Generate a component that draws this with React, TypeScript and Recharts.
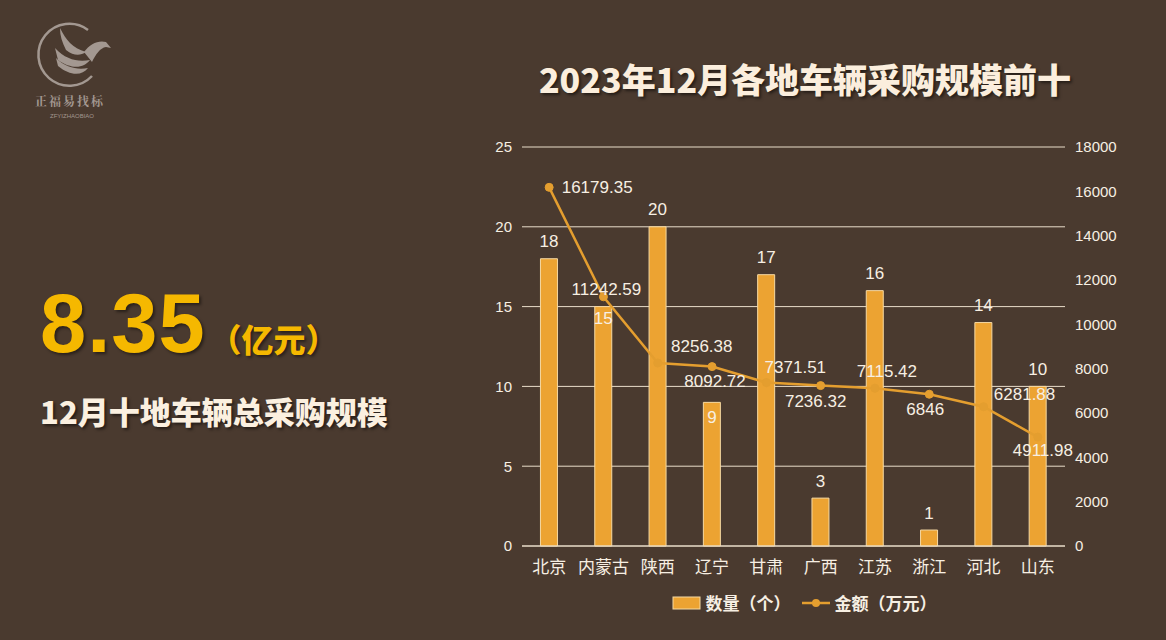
import React from "react";
import {
  ComposedChart,
  Bar,
  Line,
  XAxis,
  YAxis,
  CartesianGrid,
  Legend,
  LabelList,
} from "recharts";

// values
const regions = ["北京", "内蒙古", "陕西", "辽宁", "甘肃", "广西", "江苏", "浙江", "河北", "山东"];
const counts = [18, 15, 20, 9, 17, 3, 16, 1, 14, 10];
const amounts = [16179.35, 11242.59, 8256.38, 8092.72, 7371.51, 7236.32, 7115.42, 6846, 6281.88, 4911.98];
const leftTicks = [0, 5, 10, 15, 20, 25];
const rightTicks = [0, 2000, 4000, 6000, 8000, 10000, 12000, 14000, 16000, 18000];

// label placement (offsets from the mark, px)
const countLabelDy = [-17, 12, -17, 15, -17, -17, -17, -17, -17, -17];
const amountLabelOffset: [number, number][] = [
  [48, 0], [3, -7], [44, -16], [3, 15], [29, -15],
  [-5, 16], [12, -17], [-4, 15], [41, -12], [5, 13],
];

const data = regions.map((name, i) => ({ name, count: counts[i], amount: amounts[i] }));

const BG = "#4a3a2f";
const BAR = "#eca332";
const LINE = "#e49e2f";
const TEXT = "#f7efe3";
const FONT = "'Liberation Sans', Arial, 'Noto Sans CJK SC', sans-serif";
const CJK = "'Noto Sans CJK SC', sans-serif";

function CountLabel(props: any) {
  const { x, y, width, index, value } = props;
  return (
    <text
      x={x + width / 2}
      y={y + countLabelDy[index]}
      fill={TEXT}
      fontSize={17}
      fontFamily={FONT}
      textAnchor="middle"
      dominantBaseline="central"
    >
      {value}
    </text>
  );
}

function AmountLabel(props: any) {
  const { x, y, index, value } = props;
  const [dx, dy] = amountLabelOffset[index];
  return (
    <text
      x={x + dx}
      y={y + dy}
      fill={TEXT}
      fontSize={17}
      fontFamily={FONT}
      textAnchor="middle"
      dominantBaseline="central"
    >
      {value}
    </text>
  );
}

function LegendContent(props: any) {
  const { payload = [] } = props;
  return (
    <div style={{ display: "flex", justifyContent: "center", alignItems: "center", gap: 10, paddingRight: 18 }}>
      {payload.map((p: any) => (
        <div key={p.value} style={{ display: "flex", alignItems: "center", gap: 4 }}>
          <svg width={30} height={14}>
            {p.type === "line" ? (
              <g>
                <line x1={1} y1={7} x2={29} y2={7} stroke={LINE} strokeWidth={2.5} />
                <circle cx={15} cy={7} r={4} fill={LINE} />
              </g>
            ) : (
              <rect x={1} y={1} width={27} height={12} fill={BAR} stroke="#f6d9a3" strokeWidth={1} />
            )}
          </svg>
          <span style={{ color: TEXT, fontSize: 17, fontWeight: 700, fontFamily: CJK }}>{p.value}</span>
        </div>
      ))}
    </div>
  );
}

function Logo() {
  return (
    <svg width={150} height={125} style={{ position: "absolute", left: 0, top: 0 }}>
      <path
        d="M 88 30 A 31 31 0 1 0 92 76"
        fill="none"
        stroke="#a39891"
        strokeWidth={2.5}
      />
      <path d="M 60 28 C 66 40, 72 48, 86 52 C 80 56, 74 56, 66 50 C 62 42, 60 36, 60 28 Z" fill="#a39891" />
      <path d="M 55 48 C 66 60, 78 62, 90 60 C 84 68, 72 70, 58 60 Z" fill="#a39891" />
      <path d="M 56 58 C 66 68, 78 70, 88 68 C 82 76, 70 76, 58 66 Z" fill="#a39891" />
      <path d="M 84 52 C 90 44, 98 40, 106 42 L 111 48 L 106 47 C 100 48, 96 54, 92 62 Z" fill="#a39891" />
      <text x={70} y={106} textAnchor="middle" fill="#a39891" fontSize={12} fontWeight={700} fontFamily="'Noto Serif CJK SC', 'Noto Sans CJK SC'" letterSpacing={2}>
        正福易找标
      </text>
      <text x={72} y={118} textAnchor="middle" fill="#a39891" fontSize={6} fontFamily={FONT}>
        ZFYIZHAOBIAO
      </text>
    </svg>
  );
}

export default function App() {
  return (
    <div
      style={{
        position: "absolute",
        left: 0,
        top: 0,
        width: 1166,
        height: 640,
        background: BG,
        overflow: "hidden",
        fontFamily: FONT,
      }}
    >
      <Logo />

      <div
        style={{
          position: "absolute",
          left: 40,
          top: 276,
          color: "#f5b800",
          fontWeight: 900,
          whiteSpace: "nowrap",
          textShadow: "2px 2px 3px rgba(0,0,0,0.45)",
        }}
      >
        <span style={{ fontSize: 83, fontFamily: "'Liberation Sans', Arial", letterSpacing: 1 }}>8.35</span>
        <span style={{ fontSize: 32, marginLeft: 4, fontFamily: CJK }}>（亿元）</span>
      </div>
      <div
        style={{
          position: "absolute",
          left: 40,
          top: 388,
          color: "#fbf0e0",
          fontSize: 31,
          fontWeight: 900,
          whiteSpace: "nowrap",
          fontFamily: CJK,
          textShadow: "2px 2px 3px rgba(0,0,0,0.5)",
        }}
      >
        12月十地车辆总采购规模
      </div>

      <div
        style={{
          position: "absolute",
          left: 460,
          top: 54,
          width: 690,
          textAlign: "center",
          color: "#fbeedd",
          fontSize: 34,
          fontWeight: 900,
          whiteSpace: "nowrap",
          fontFamily: CJK,
          textShadow: "2px 2px 3px rgba(0,0,0,0.5)",
        }}
      >
        2023年12月各地车辆采购规模前十
      </div>

      <div style={{ position: "absolute", left: 460, top: 120 }}>
        <ComposedChart
          width={706}
          height={505}
          data={data}
          margin={{ top: 27, right: 0, left: 0, bottom: 10 }}
          barCategoryGap="34%"
        >
          <CartesianGrid yAxisId="left" vertical={false} stroke="#e9ddca" strokeWidth={1} />
          <XAxis
            dataKey="name"
            axisLine={{ stroke: "#e9ddca" }}
            tickLine={false}
            tick={{ fill: TEXT, fontSize: 17, fontFamily: FONT }}
            tickMargin={9}
            interval={0}
          />
          <YAxis
            yAxisId="left"
            domain={[0, 25]}
            ticks={leftTicks}
            width={62}
            axisLine={false}
            tickLine={false}
            tick={{ fill: TEXT, fontSize: 15, fontFamily: FONT }}
            tickMargin={4}
          />
          <YAxis
            yAxisId="right"
            orientation="right"
            domain={[0, 18000]}
            ticks={rightTicks}
            width={101}
            axisLine={false}
            tickLine={false}
            tick={{ fill: TEXT, fontSize: 15, fontFamily: FONT }}
            tickMargin={4}
          />
          <Legend verticalAlign="bottom" wrapperStyle={{ paddingTop: 14 }} content={<LegendContent />} />
          <Bar
            yAxisId="left"
            dataKey="count"
            name="数量（个）"
            fill={BAR}
            stroke="#f6d9a3"
            strokeWidth={1}
            isAnimationActive={false}
          >
            <LabelList dataKey="count" content={<CountLabel />} />
          </Bar>
          <Line
            yAxisId="right"
            dataKey="amount"
            name="金额（万元）"
            stroke={LINE}
            strokeWidth={2.5}
            dot={{ r: 4, fill: LINE, stroke: LINE, strokeWidth: 1 }}
            activeDot={false}
            legendType="line"
            isAnimationActive={false}
          >
            <LabelList dataKey="amount" content={<AmountLabel />} />
          </Line>
        </ComposedChart>
      </div>
    </div>
  );
}
